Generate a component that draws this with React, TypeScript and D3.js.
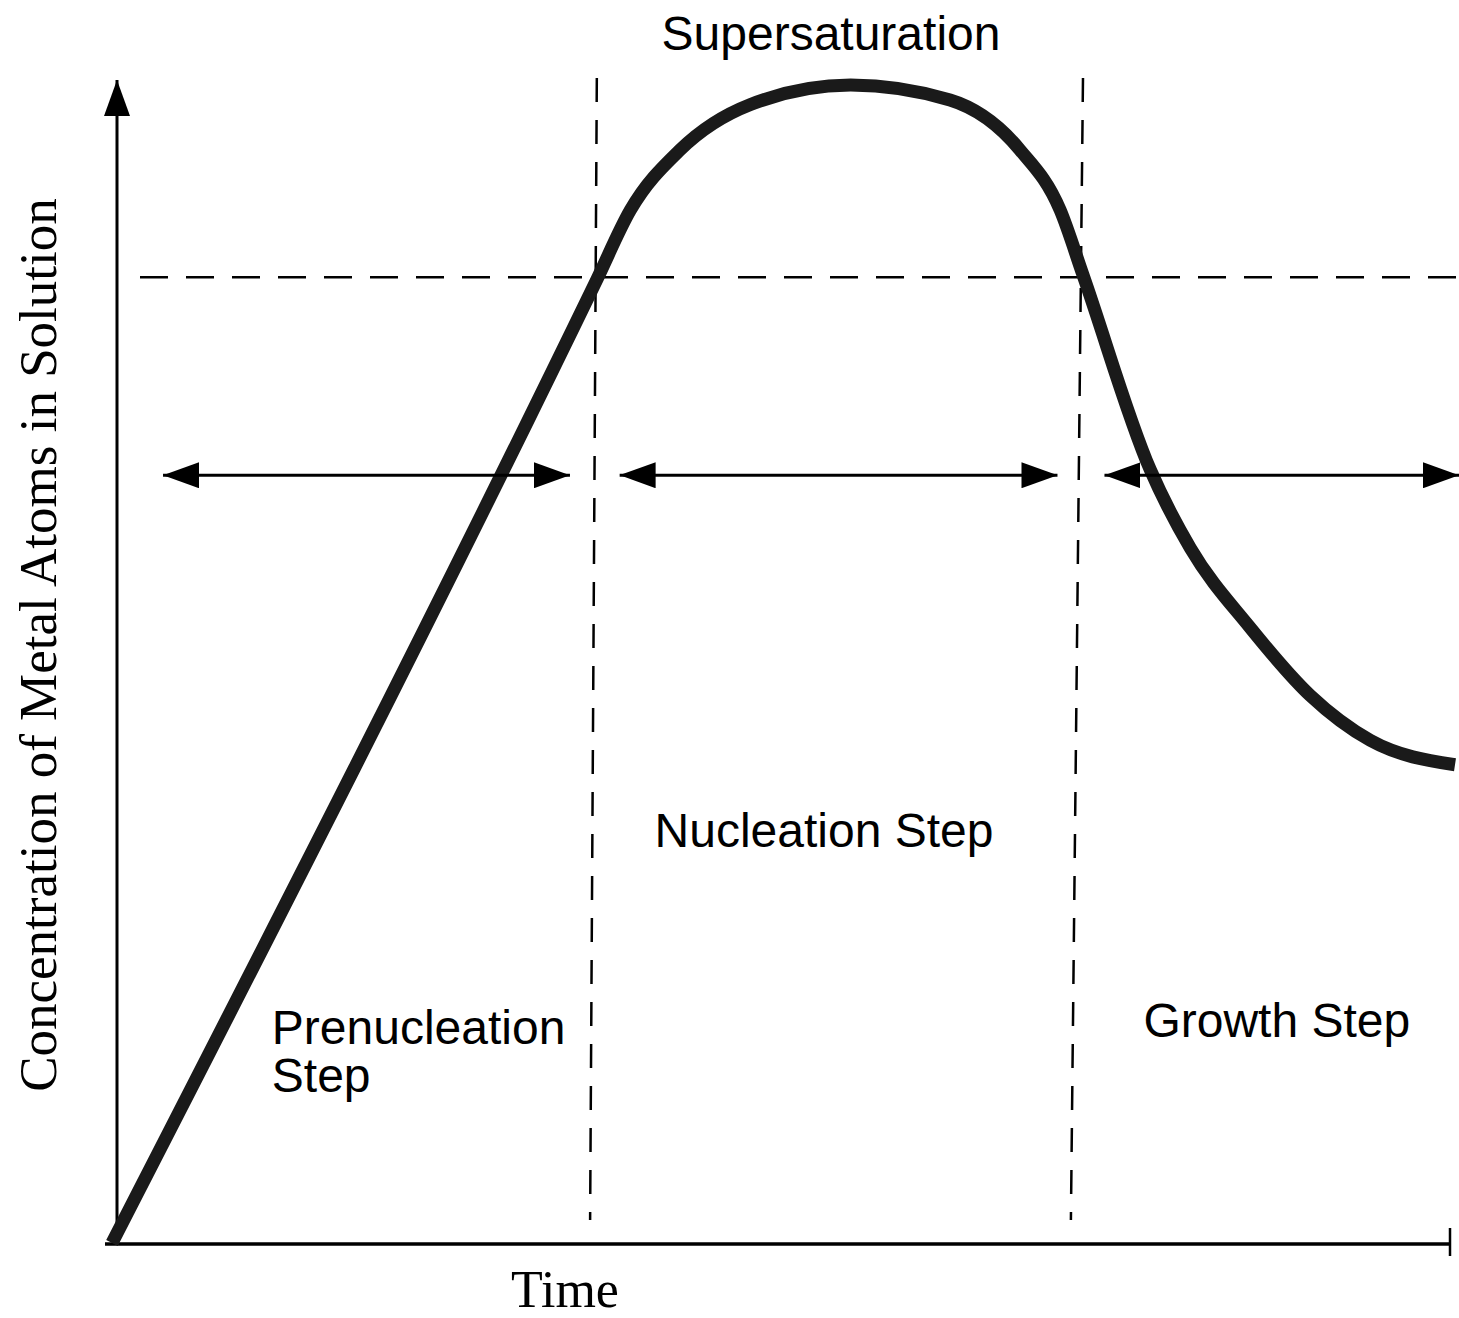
import React from 'react';
import * as d3 from 'd3';

// curve of concentration vs time (schematic units 0..100)
const curveTime = [0, 36.1, 38.6, 42.3, 47.5, 55, 62.4, 67.6, 70.6, 72.3, 77.3, 80.3, 84.7, 89.2, 93.7, 100];
const curveConc = [0, 83.2, 89.2, 94.4, 98.3, 100, 98.7, 94.4, 89.2, 83.6, 66.8, 60.0, 53.2, 47.3, 43.4, 41.3];

const saturationLevel = 83.4;
const stepBounds = [[36.1, 35.6], [72.3, 71.4]]; // [top, bottom] time of each dashed divider
const arrowLevel = 66.3;
const arrowSpans = [[3.8, 34.1], [37.8, 70.4], [73.9, 100.3]];

const stepLabels = [
  { lines: ['Prenucleation', 'Step'], t: 11.9, c: 17.2 },
  { lines: ['Nucleation Step'], t: 40.4, c: 34.2 },
  { lines: ['Growth Step'], t: 76.8, c: 17.8 },
];

const W = 1459;
const H = 1318;

const App = () => {
  const x = d3.scaleLinear().domain([0, 100]).range([112, 1455]);
  const y = d3.scaleLinear().domain([0, 100]).range([1243, 85]);

  const points: [number, number][] = curveTime.map((t, i) => [t, curveConc[i]]);
  const line = d3
    .line<[number, number]>()
    .x((d) => x(d[0]))
    .y((d) => y(d[1]))
    .curve(d3.curveMonotoneX);

  const sans = '"Liberation Sans", Arial, sans-serif';
  const serif = '"Liberation Serif", "Times New Roman", serif';

  return (
    <svg
      width={W}
      height={H}
      style={{ position: 'absolute', left: 0, top: 0, background: '#fff' }}
    >
      <defs>
        <marker id="head" viewBox="0 0 36 26" refX="36" refY="13" markerWidth="36" markerHeight="26"
          markerUnits="userSpaceOnUse" orient="auto-start-reverse">
          <path d="M0,0 L36,13 L0,26 Z" fill="#000" />
        </marker>
      </defs>

      {/* axes */}
      <line x1={x(0) + 5} y1={y(0) + 2} x2={x(0) + 5} y2={80} stroke="#000" strokeWidth={3} markerEnd="url(#head)" />
      <line x1={105} y1={y(0) + 1} x2={1450} y2={y(0) + 1} stroke="#000" strokeWidth={3.5} />
      <line x1={1450} y1={1228} x2={1450} y2={1256} stroke="#000" strokeWidth={2.5} />

      {/* saturation level */}
      <line x1={140} y1={y(saturationLevel)} x2={W} y2={y(saturationLevel)} stroke="#000"
        strokeWidth={2.5} strokeDasharray="28 18" />

      {/* step dividers */}
      {stepBounds.map(([top, bottom], i) => (
        <line key={i} x1={x(top)} y1={78} x2={x(bottom)} y2={1220} stroke="#000"
          strokeWidth={2.5} strokeDasharray="24 18" />
      ))}

      {/* concentration curve */}
      <path d={line(points) ?? ''} fill="none" stroke="#1a1a1a" strokeWidth={13} strokeLinejoin="round" />

      {/* step arrows */}
      {arrowSpans.map(([a, b], i) => (
        <line key={i} x1={x(a)} y1={y(arrowLevel)} x2={x(b)} y2={y(arrowLevel)} stroke="#000"
          strokeWidth={3} markerStart="url(#head)" markerEnd="url(#head)" />
      ))}

      {/* labels */}
      <text x={831} y={50} fontFamily={sans} fontSize={48} textAnchor="middle">Supersaturation</text>
      {stepLabels.map((s, i) => (
        <text key={i} x={x(s.t)} y={y(s.c)} fontFamily={sans} fontSize={48}>
          {s.lines.map((l, j) => (
            <tspan key={j} x={x(s.t)} dy={j === 0 ? 0 : 48}>{l}</tspan>
          ))}
        </text>
      ))}
      <text x={565} y={1307} fontFamily={serif} fontSize={52} textAnchor="middle">Time</text>
      <text transform="translate(56,645) rotate(-90)" fontFamily={serif} fontSize={53} textAnchor="middle">
        Concentration of Metal Atoms in Solution
      </text>
    </svg>
  );
};

export default App;
